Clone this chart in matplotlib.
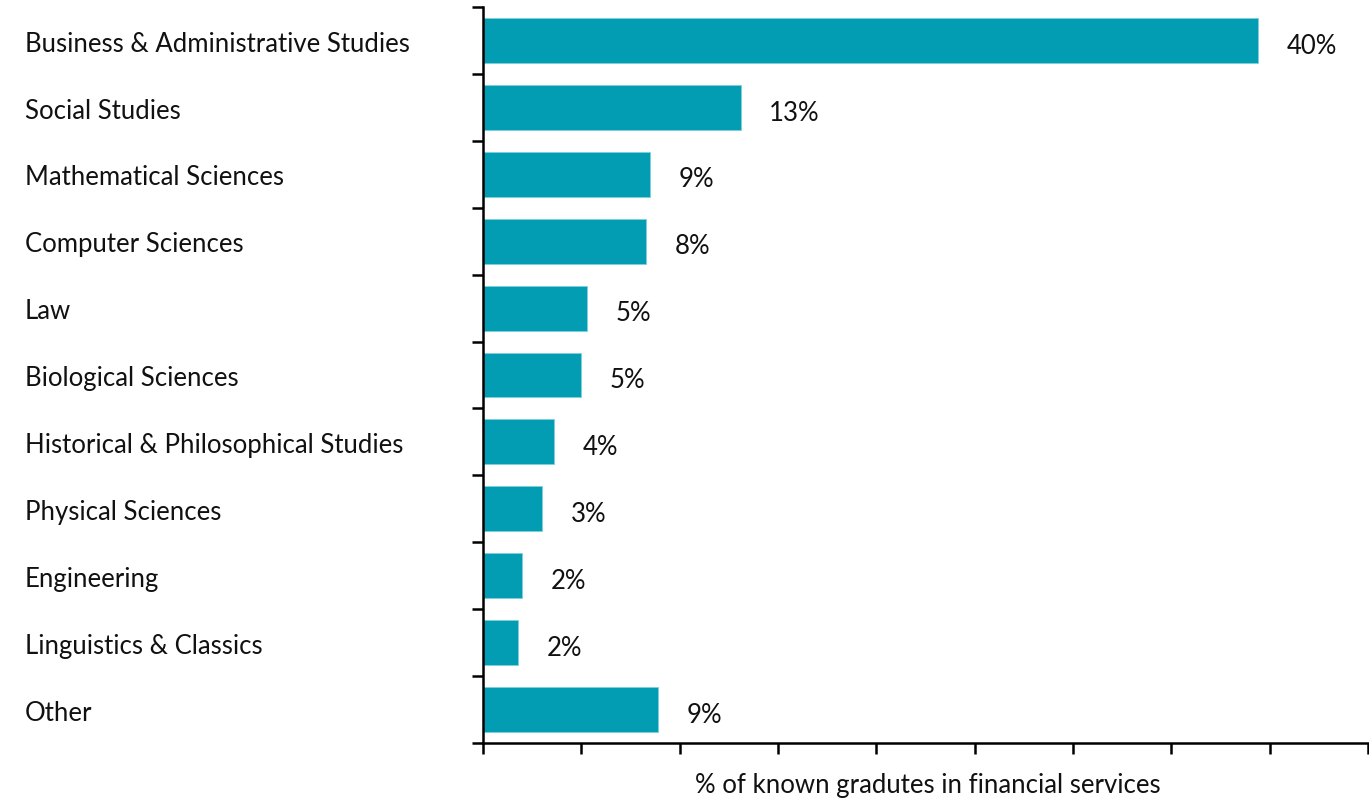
import matplotlib
matplotlib.use("Agg")
import matplotlib.pyplot as plt
from matplotlib.transforms import blended_transform_factory
import numpy as np

categories = ["Business & Administrative Studies", "Social Studies", "Mathematical Sciences",
              "Computer Sciences", "Law", "Biological Sciences",
              "Historical & Philosophical Studies", "Physical Sciences", "Engineering",
              "Linguistics & Classics", "Other"]
values = [39.4, 13.1, 8.5, 8.3, 5.3, 5.0, 3.6, 3.0, 2.0, 1.8, 8.9]
labels = ["40%", "13%", "9%", "8%", "5%", "5%", "4%", "3%", "2%", "2%", "9%"]
xlabel = "% of known gradutes in financial services"

plt.rcParams['font.family'] = ['Lato', 'DejaVu Sans']

W, H = 1369, 804
fig = plt.figure(figsize=(W / 100, H / 100), dpi=100)
ax = fig.add_axes([483 / W, 1 - 744 / H, (1368 - 483) / W, (744 - 8) / H])

n = len(categories)
ypos = np.arange(n)
ax.barh(ypos, values, height=0.67, color="#029db3", edgecolor="#7fd0dc", linewidth=0.6)
ax.set_ylim(n - 0.5, -0.5)
ax.set_xlim(0, 45)

ax.set_xticks(np.arange(0, 46, 5))
ax.set_xticklabels([])
ax.set_yticks(np.arange(-0.5, n, 1.0))
ax.set_yticklabels([])
ax.tick_params(axis="both", length=8, width=1.8, color="black")

for s in ["top", "right"]:
    ax.spines[s].set_visible(False)
for s in ["left", "bottom"]:
    ax.spines[s].set_linewidth(1.8)

fs = 18.5
trans = blended_transform_factory(fig.transFigure, ax.transData)
for i, c in enumerate(categories):
    ax.text(25 / W, i + 0.04, c, transform=trans, ha="left", va="center",
            fontsize=fs, color="#111111")

for i, (v, l) in enumerate(zip(values, labels)):
    ax.text(v + 1.45, i + 0.07, l, ha="left", va="center", fontsize=fs, color="#111111")

fig.text(928 / W, 1 - 786 / H, xlabel, ha="center", va="center", fontsize=fs, color="#111111")

fig.savefig("out.png", dpi=100)
